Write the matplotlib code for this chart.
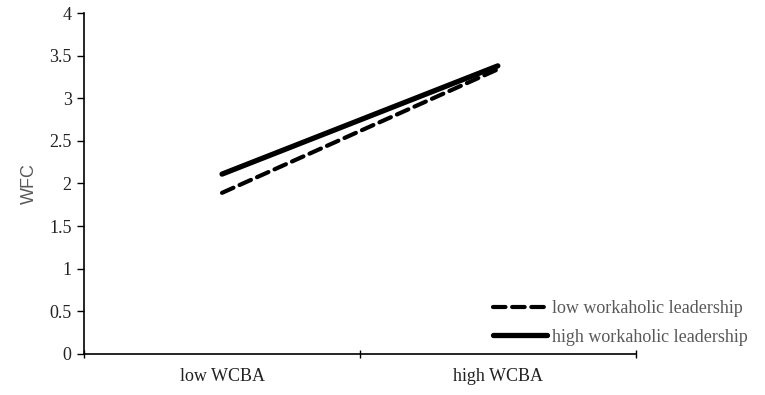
import matplotlib
matplotlib.use("Agg")
import matplotlib.pyplot as plt
from matplotlib.ticker import FixedLocator, NullFormatter

categories = ["low WCBA", "high WCBA"]
low_wl = [1.89, 3.34]
high_wl = [2.11, 3.38]
series_names = ["low workaholic leadership", "high workaholic leadership"]
yticks = [0, 0.5, 1, 1.5, 2, 2.5, 3, 3.5, 4]
ytick_labels = ["0", "0.5", "1", "1.5", "2", "2.5", "3", "3.5", "4"]

fig = plt.figure(figsize=(7.65, 3.95), dpi=100)
ax = fig.add_axes([0.11, 0.104, 0.721, 0.863])

x = list(range(len(categories)))
l1, = ax.plot(x, low_wl, color="black", lw=3.0, ls=(0, (3, 1.6)), solid_capstyle="round",
              dash_capstyle="round")
l2, = ax.plot(x, high_wl, color="black", lw=3.8, solid_capstyle="round")

ax.set_xlim(-0.5, len(categories) - 0.5)
ax.set_ylim(0, 4)
ax.set_yticks(yticks)
ax.set_yticklabels(ytick_labels, family="Liberation Serif", fontsize=13, color="#222222")
ax.xaxis.set_major_locator(FixedLocator([-0.5, 0.5, 1.5]))
ax.xaxis.set_major_formatter(NullFormatter())
ax.xaxis.set_minor_locator(FixedLocator(x))
ax.set_xticklabels(categories, minor=True, family="Liberation Serif", fontsize=13, color="#222222")
ax.tick_params(axis="x", which="minor", length=0, pad=10)
ax.tick_params(axis="x", which="major", direction="inout", length=6, width=1)
ax.tick_params(axis="y", direction="out", length=5, width=1, pad=4)

for s in ["top", "right"]:
    ax.spines[s].set_visible(False)
for s in ["left", "bottom"]:
    ax.spines[s].set_linewidth(1.2)
    ax.spines[s].set_color("black")

ax.set_ylabel("WFC", family="Liberation Sans", fontsize=13, color="#595959", labelpad=8)

fig.legend([l1, l2], series_names, loc="center left", bbox_to_anchor=(0.6235, 0.183),
           frameon=False, handlelength=3.0, handletextpad=0.28, labelspacing=0.65,
           prop={"family": "Liberation Serif", "size": 13}, labelcolor="#595959")

fig.savefig("out.png", dpi=100)
